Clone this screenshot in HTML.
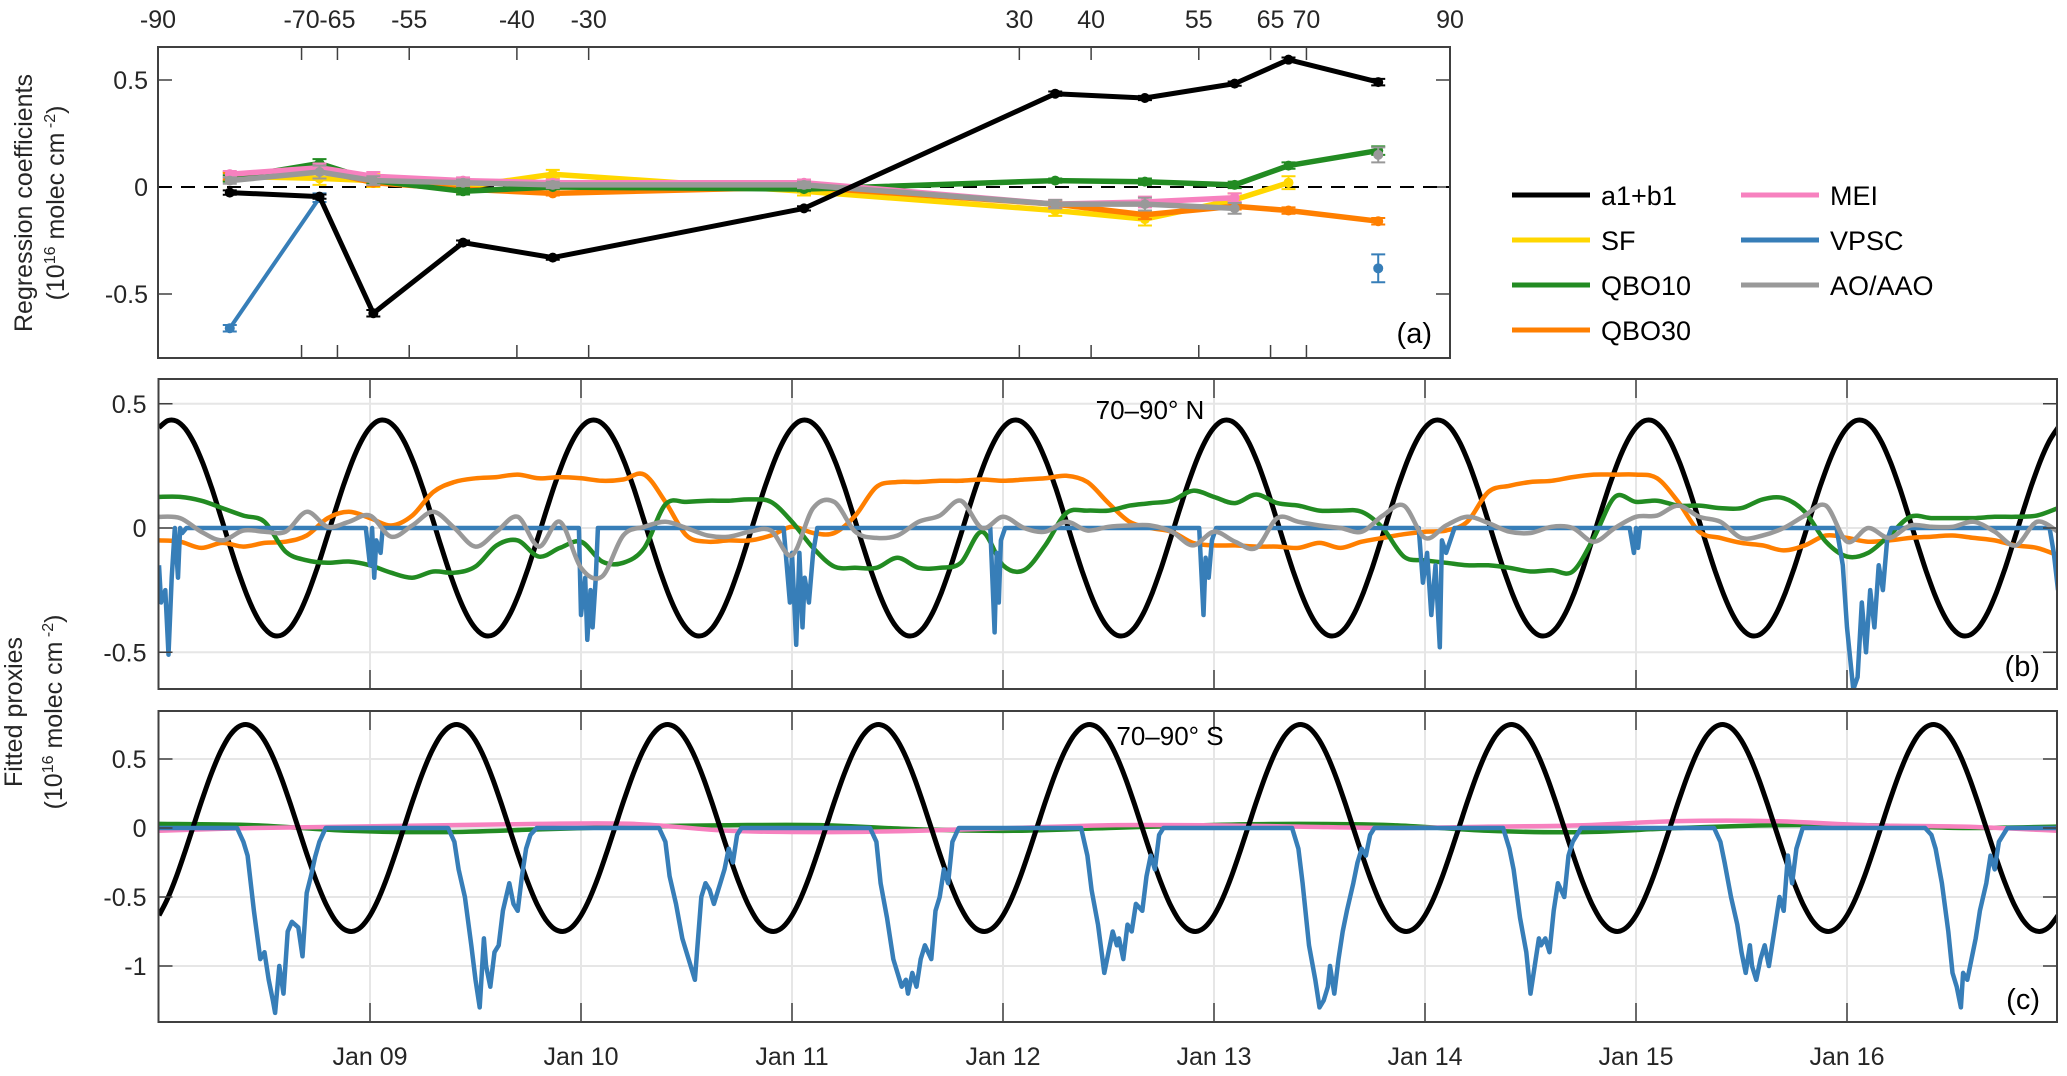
<!DOCTYPE html>
<html><head><meta charset="utf-8"><title>Regression coefficients and fitted proxies</title>
<style>
html,body{margin:0;padding:0;background:#fff;}
svg{display:block;font-family:"Liberation Sans",sans-serif;}
</style></head>
<body>
<svg id="chart" width="2067" height="1076" viewBox="0 0 2067 1076" xmlns="http://www.w3.org/2000/svg">
<g id="pa"></g>
<g id="pb"></g>
<g id="pc"></g>
<g id="legend"></g>
<text transform="translate(32,203) rotate(-90)" text-anchor="middle" font-size="25" fill="#262626">Regression coefficients</text>
<text transform="translate(64,203) rotate(-90)" text-anchor="middle" font-size="25" fill="#262626">(10<tspan font-size="16" dy="-9">16</tspan><tspan dy="9"> molec cm</tspan><tspan font-size="16" dy="-9"> -2</tspan><tspan dy="9">)</tspan></text>
<text transform="translate(22,712) rotate(-90)" text-anchor="middle" font-size="25" fill="#262626">Fitted proxies</text>
<text transform="translate(62,712) rotate(-90)" text-anchor="middle" font-size="25" fill="#262626">(10<tspan font-size="16" dy="-9">16</tspan><tspan dy="9"> molec cm</tspan><tspan font-size="16" dy="-9"> -2</tspan><tspan dy="9">)</tspan></text>
</svg>
<script>
// ---------- Panel (a) data ----------
const latitudes = [-80, -67.5, -60, -47.5, -35, 0, 35, 47.5, 60, 67.5, 80];
const latTicks = [-90, -70, -65, -55, -40, -30, 30, 40, 55, 65, 70, 90];
const aTicks = [0.5, 0, -0.5];
const coefA1B1 = [-0.026, -0.045, -0.59, -0.26, -0.33, -0.10, 0.436, 0.416, 0.483, 0.595, 0.49];
const coefSF = [0.05, 0.04, 0.03, 0.0, 0.06, -0.02, -0.11, -0.15, -0.06, 0.02, null];
const coefQBO10 = [0.04, 0.11, 0.03, -0.02, 0.0, -0.01, 0.03, 0.025, 0.01, 0.10, 0.17];
const coefQBO30 = [0.05, 0.08, 0.02, -0.01, -0.03, 0.0, -0.08, -0.13, -0.09, -0.11, -0.16];
const coefMEI = [0.06, 0.09, 0.05, 0.03, 0.02, 0.02, -0.08, -0.07, -0.05, null, null];
const coefVPSC = [-0.66, -0.05, null, null, null, null, null, null, null, null, -0.38];
const coefAO = [0.03, 0.07, 0.03, 0.02, 0.01, 0.01, -0.08, -0.08, -0.10, null, 0.15];
const errA1B1 = [0.01, 0.01, 0.015, 0.01, 0.01, 0.01, 0.01, 0.01, 0.01, 0.01, 0.015];
const errSF = [0.02, 0.03, 0.03, 0.02, 0.02, 0.02, 0.025, 0.03, 0.03, 0.03, 0];
const errQBO10 = [0.015, 0.02, 0.015, 0.015, 0.01, 0.01, 0.01, 0.015, 0.015, 0.015, 0.02];
const errQBO30 = [0.015, 0.02, 0.015, 0.015, 0.01, 0.01, 0.015, 0.02, 0.015, 0.015, 0.015];
const errMEI = [0.015, 0.02, 0.02, 0.015, 0.015, 0.015, 0.02, 0.025, 0.02, 0, 0];
const errVPSC = [0.015, 0.02, 0, 0, 0, 0, 0, 0, 0, 0, 0.065];
const errAO = [0.015, 0.03, 0.02, 0.015, 0.015, 0.015, 0.02, 0.03, 0.025, 0, 0.035];

// ---------- Panel (b)/(c) data ----------
const years = ["Jan 09","Jan 10","Jan 11","Jan 12","Jan 13","Jan 14","Jan 15","Jan 16"];
const bTicks = [0.5, 0, -0.5];
const cTicks = [0.5, 0, -0.5, -1];
const cycleB = [0.404,0.432,0.430,0.399,0.341,0.259,0.160,0.050,-0.064,-0.173,-0.270,-0.349,-0.404,-0.432,-0.430,-0.399,-0.341,-0.259,-0.160,-0.050,0.064,0.173,0.270,0.349];
const cycleC = [-0.633,-0.508,-0.348,-0.164,0.031,0.224,0.402,0.552,0.665,0.732,0.749,0.716,0.633,0.508,0.348,0.164,-0.031,-0.224,-0.402,-0.552,-0.665,-0.732,-0.749,-0.716];
const qbo30B = [-0.05,-0.055,-0.08,-0.06,-0.075,-0.06,-0.055,-0.03,0.04,0.065,0.04,0.01,0.05,0.145,0.185,0.2,0.205,0.215,0.2,0.205,0.2,0.19,0.195,0.215,0.105,-0.03,-0.055,-0.05,-0.05,-0.03,0.005,-0.02,-0.02,0.05,0.165,0.185,0.185,0.19,0.19,0.195,0.19,0.195,0.2,0.21,0.185,0.1,0.025,0,-0.015,-0.06,-0.07,-0.07,-0.075,-0.075,-0.08,-0.06,-0.08,-0.055,-0.04,-0.025,-0.015,-0.01,0.025,0.145,0.17,0.185,0.19,0.205,0.215,0.215,0.215,0.2,0.105,-0.015,-0.04,-0.06,-0.07,-0.09,-0.07,-0.03,-0.04,-0.055,-0.05,-0.04,-0.035,-0.03,-0.04,-0.05,-0.07,-0.08,-0.11];
const qbo10B = [0.125,0.125,0.11,0.08,0.05,0.025,-0.095,-0.13,-0.14,-0.135,-0.15,-0.18,-0.2,-0.175,-0.18,-0.155,-0.07,-0.05,-0.115,-0.08,-0.055,-0.135,-0.14,-0.08,0.095,0.105,0.11,0.11,0.115,0.105,0.025,-0.08,-0.155,-0.16,-0.16,-0.12,-0.16,-0.16,-0.14,-0.015,-0.15,-0.17,-0.07,0.06,0.07,0.07,0.09,0.1,0.11,0.15,0.125,0.1,0.135,0.1,0.09,0.07,0.07,0.065,0,-0.115,-0.13,-0.14,-0.15,-0.15,-0.16,-0.175,-0.17,-0.175,-0.04,0.125,0.105,0.11,0.09,0.09,0.08,0.08,0.115,0.12,0.065,-0.055,-0.115,-0.1,-0.03,0.045,0.04,0.04,0.04,0.045,0.045,0.05,0.08];
const aoB = [0.045,0.04,-0.015,-0.05,-0.01,-0.015,-0.015,0.065,0.005,0.025,0.05,-0.035,0.01,0.065,0,-0.075,-0.015,0.045,-0.075,0.025,-0.16,-0.195,-0.03,0.005,0.025,0,-0.03,-0.035,-0.015,-0.01,-0.11,0.08,0.105,-0.015,-0.04,-0.03,0.025,0.05,0.11,0,0.045,0,-0.015,0.025,-0.01,0.005,0.01,0.01,-0.015,-0.07,-0.015,-0.055,-0.08,0.04,0.025,0.01,0,-0.015,0.05,0.09,-0.04,0.01,0.045,0.02,-0.015,-0.02,0.005,0,-0.055,0,0.045,0.05,0.09,0.045,0.025,-0.04,-0.03,0,0.05,0.09,-0.055,0,-0.04,0.01,0.005,0.005,0.025,-0.015,-0.07,0.025,-0.015];
const vpscBTimes = [0,0.01,0.03,0.045,0.06,0.075,0.09,0.1,0.11,0.13,0.98,1.0,1.01,1.02,1.03,1.05,1.06,1.99,2.0,2.02,2.03,2.045,2.055,2.07,2.08,2.96,2.99,3.0,3.02,3.035,3.05,3.06,3.08,3.1,3.12,3.94,3.96,3.97,3.98,3.99,4.01,4.93,4.95,4.96,4.975,4.99,5.01,5.97,5.99,6.01,6.03,6.05,6.07,6.08,6.1,6.14,6.97,6.99,7.0,7.01,7.02,7.95,7.98,8.0,8.03,8.05,8.07,8.09,8.11,8.13,8.15,8.17,8.19,8.21,8.96,8.98,9.0];
const vpscBVals = [-0.15,-0.3,-0.25,-0.51,-0.2,0,-0.2,0,-0.02,0,0,-0.15,0,-0.2,-0.05,-0.1,0,0,-0.35,-0.2,-0.45,-0.25,-0.4,-0.2,0,0,-0.3,-0.1,-0.47,-0.1,-0.4,-0.2,-0.3,-0.1,0,0,-0.42,-0.1,-0.3,-0.05,0,0,-0.35,-0.12,-0.2,-0.05,0,0,-0.22,-0.1,-0.35,-0.15,-0.48,-0.05,-0.1,0,0,-0.1,0,-0.08,0,0,-0.15,-0.4,-0.65,-0.6,-0.3,-0.5,-0.25,-0.4,-0.15,-0.25,-0.05,0,0,-0.1,-0.25];
const qbo10C = [0.03,0.02,-0.02,-0.03,-0.01,0.01,0.02,0.02,-0.01,-0.02,0.0,0.02,0.03,0.02,-0.02,-0.03,0.0,0.02,0.02,0.0,0.01];
const meiC = [-0.02,0.0,0.01,0.02,0.03,0.03,-0.02,-0.03,-0.02,0.0,0.02,0.02,0.01,0.0,0.01,0.02,0.05,0.05,0.02,0.01,-0.02];
const vpscCFrac = [0.37,0.40,0.42,0.45,0.48,0.50,0.52,0.54,0.55,0.57,0.59,0.61,0.63,0.66,0.68,0.70,0.72,0.74,0.76,0.79];
const vpscCVals = [
 [0,-0.1,-0.2,-0.6,-0.95,-0.9,-1.1,-1.25,-1.34,-1.0,-1.2,-0.75,-0.68,-0.72,-0.93,-0.47,-0.35,-0.21,-0.1,0],
 [0,-0.1,-0.3,-0.5,-0.85,-1.1,-1.3,-0.8,-1.0,-1.15,-0.9,-0.85,-0.6,-0.4,-0.55,-0.6,-0.35,-0.15,-0.05,0],
 [0,-0.1,-0.35,-0.55,-0.8,-0.9,-1.0,-1.1,-0.9,-0.5,-0.4,-0.45,-0.55,-0.4,-0.3,-0.15,-0.25,-0.05,0,0],
 [0,-0.1,-0.4,-0.65,-0.95,-1.05,-1.15,-1.1,-1.2,-1.05,-1.15,-0.95,-0.85,-0.95,-0.6,-0.5,-0.3,-0.4,-0.1,0],
 [0,-0.2,-0.45,-0.7,-1.05,-0.9,-0.75,-0.85,-0.8,-0.95,-0.7,-0.75,-0.55,-0.6,-0.35,-0.2,-0.3,-0.05,0,0],
 [0,-0.15,-0.4,-0.85,-1.1,-1.3,-1.25,-1.15,-1.0,-1.2,-0.95,-0.75,-0.6,-0.4,-0.25,-0.15,-0.2,-0.05,0,0],
 [0,-0.15,-0.3,-0.65,-0.9,-1.2,-1.0,-0.8,-0.85,-0.8,-0.9,-0.6,-0.4,-0.5,-0.2,-0.1,-0.05,0,0,0],
 [0,-0.1,-0.25,-0.5,-0.7,-0.9,-1.05,-0.85,-1.0,-1.1,-0.95,-0.85,-1.0,-0.7,-0.5,-0.6,-0.2,-0.4,-0.15,0],
 [0,-0.05,-0.15,-0.4,-0.75,-1.05,-1.15,-1.3,-1.05,-1.1,-0.95,-0.8,-0.6,-0.4,-0.2,-0.3,-0.1,-0.05,0,0]
];

const COL = {black:"#000000", sf:"#FFD700", qbo10:"#228B22", qbo30:"#FF7F00", mei:"#F781BF", vpsc:"#377EB8", ao:"#999999"};
const NS = "http://www.w3.org/2000/svg";
function mk(tag, attrs, parent){
  const e = document.createElementNS(NS, tag);
  for (const k in attrs) e.setAttribute(k, attrs[k]);
  if (parent) parent.appendChild(e);
  return e;
}
function linePath(pts){ return pts.map((p,i)=>(i?"L":"M")+p[0].toFixed(1)+","+p[1].toFixed(1)).join(""); }
function smoothPath(pts){
  let d = "M"+pts[0][0].toFixed(1)+","+pts[0][1].toFixed(1);
  for (let i=0;i<pts.length-1;i++){
    const p0=pts[Math.max(0,i-1)], p1=pts[i], p2=pts[i+1], p3=pts[Math.min(pts.length-1,i+2)];
    const c1x=p1[0]+(p2[0]-p0[0])/6, c1y=p1[1]+(p2[1]-p0[1])/6;
    const c2x=p2[0]-(p3[0]-p1[0])/6, c2y=p2[1]-(p3[1]-p1[1])/6;
    d += "C"+c1x.toFixed(1)+","+c1y.toFixed(1)+" "+c2x.toFixed(1)+","+c2y.toFixed(1)+" "+p2[0].toFixed(1)+","+p2[1].toFixed(1);
  }
  return d;
}

// ---------- Panel (a) ----------
(function(){
  const g = document.getElementById("pa");
  const L=158, R=1450, T=47, B=358;
  const xLat = lat => L + (lat+90)*(R-L)/180;
  const yA = v => 187 - v*214;
  const clip = mk("clipPath",{id:"clipA"},g); mk("rect",{x:L,y:T,width:R-L,height:B-T},clip);
  latTicks.forEach(lt=>{
    const x = xLat(lt);
    const t1 = mk("line",{x1:x,y1:T,x2:x,y2:T+13,stroke:"#404040","stroke-width":1.5},g);
    
    
    const t2 = mk("line",{x1:x,y1:B,x2:x,y2:B-13,stroke:"#404040","stroke-width":1.5},g);
    
    
    const tx = mk("text",{x:x,y:28,"text-anchor":"middle","font-size":25,fill:"#262626"},g);
    tx.textContent = String(lt);
    
    
  });
  aTicks.forEach(v=>{
    const y=yA(v);
    const t1 = mk("line",{x1:L,y1:y,x2:L+14,y2:y,stroke:"#404040","stroke-width":1.5},g);
    
    
    const t2 = mk("line",{x1:R,y1:y,x2:R-14,y2:y,stroke:"#404040","stroke-width":1.5},g);
    
    
    const tx = mk("text",{x:L-10,y:y+9,"text-anchor":"end","font-size":25,fill:"#262626"},g);
    tx.textContent = String(v);
    
    
  });
  const zl = mk("line",{x1:L,y1:yA(0),x2:R,y2:yA(0),stroke:"#000","stroke-width":2,"stroke-dasharray":"14,9"},g);
  
  
  const series = [
    ["sf",coefSF,errSF,COL.sf,5.5],["qbo30",coefQBO30,errQBO30,COL.qbo30,5.5],["qbo10",coefQBO10,errQBO10,COL.qbo10,5.5],
    ["mei",coefMEI,errMEI,COL.mei,5.5],["ao",coefAO,errAO,COL.ao,5.5],["vpsc",coefVPSC,errVPSC,COL.vpsc,4],["a1b1",coefA1B1,errA1B1,COL.black,5]
  ];
  series.forEach(([nm,vals,errs,col,w])=>{
    const sg = mk("g",{"clip-path":"url(#clipA)"},g);
    
    
    let seg=[];
    const flush=()=>{ if(seg.length>1){ const p=mk("path",{d:linePath(seg),fill:"none",stroke:col,"stroke-width":w,"stroke-linejoin":"round"},sg);
      
       } seg=[]; };
    vals.forEach((v,i)=>{ if(v===null){flush();return;} seg.push([xLat(latitudes[i]),yA(v)]); });
    flush();
    vals.forEach((v,i)=>{
      if(v===null) return;
      const x=xLat(latitudes[i]), y=yA(v), e=errs[i]*214;
      if(e>0){
        const eb=mk("path",{d:`M${x},${y-e}L${x},${y+e}M${x-7},${y-e}L${x+7},${y-e}M${x-7},${y+e}L${x+7},${y+e}`,stroke:col,"stroke-width":2,fill:"none"},sg);
        
        
      }
      const c=mk("circle",{cx:x,cy:y,r:5,fill:col},sg);
      
      
    });
  });
  const box = mk("rect",{x:L,y:T,width:R-L,height:B-T,fill:"none",stroke:"#404040","stroke-width":2},g);
  
  
  const lab = mk("text",{x:1432,y:343,"text-anchor":"end","font-size":29,fill:"#000"},g);
  lab.textContent="(a)";
  
  
})();

// ---------- Panels (b) and (c) ----------
const L2=158.5, R2=2057;
const xT = t => 159 + 211*t;
function timePanel(gid, T, B, y0, ppu, ticks, labelTxt, titleTxt, titleX, titleY, showDates){
  const g=document.getElementById(gid);
  const yV = v => y0 - v*ppu;
  const cid="clip"+gid;
  const clip=mk("clipPath",{id:cid},g); mk("rect",{x:L2,y:T,width:R2-L2,height:B-T},clip);
  ticks.forEach(v=>{
    const gl=mk("line",{x1:L2,y1:yV(v),x2:R2,y2:yV(v),stroke:"#e6e6e6","stroke-width":2},g);
    
    
  });
  years.forEach((yl,i)=>{
    const x=xT(i+1);
    const gl=mk("line",{x1:x,y1:T,x2:x,y2:B,stroke:"#e6e6e6","stroke-width":2},g);
    
    
  });
  return {g, yV, cid, T, B, ticks, labelTxt, titleTxt, titleX, titleY, showDates};
}
function finishPanel(P, name){
  const g=P.g;
  P.ticks.forEach(v=>{
    const y=P.yV(v);
    const t1=mk("line",{x1:L2,y1:y,x2:L2+14,y2:y,stroke:"#404040","stroke-width":1.5},g);
    
    
    const t2=mk("line",{x1:R2,y1:y,x2:R2-14,y2:y,stroke:"#404040","stroke-width":1.5},g);
    
    
    const tx=mk("text",{x:L2-12,y:y+9,"text-anchor":"end","font-size":25,fill:"#262626"},g);
    tx.textContent=String(v);
    
    
  });
  years.forEach((yl,i)=>{
    const x=xT(i+1);
    const t1=mk("line",{x1:x,y1:P.T,x2:x,y2:P.T+19,stroke:"#404040","stroke-width":1.5},g);
    
    
    const t2=mk("line",{x1:x,y1:P.B,x2:x,y2:P.B-19,stroke:"#404040","stroke-width":1.5},g);
    
    
    if(P.showDates){
      const tx=mk("text",{x:x,y:1065,"text-anchor":"middle","font-size":25,fill:"#262626"},g);
      tx.textContent=yl;
      
      
    }
  });
  const box=mk("rect",{x:L2,y:P.T,width:R2-L2,height:P.B-P.T,fill:"none",stroke:"#404040","stroke-width":2},g);
  
  
  const lab=mk("text",{x:2040,y:P.B-13,"text-anchor":"end","font-size":29,fill:"#000"},g);
  lab.textContent=P.labelTxt;
  
  
  const ti=mk("text",{x:P.titleX,y:P.titleY,"text-anchor":"middle","font-size":26,fill:"#000"},g);
  ti.textContent=P.titleTxt;
  
  
}
function drawLine(P, pts, col, w, smooth, nm){
  const p=mk("path",{d:smooth?smoothPath(pts):linePath(pts),fill:"none",stroke:col,"stroke-width":w,"stroke-linejoin":"round","clip-path":"url(#"+P.cid+")"},P.g);
  
  
}
function cyclePts(P, cyc){
  const pts=[];
  for(let y=0;y<9;y++) cyc.forEach((v,k)=>pts.push([xT(y+k/cyc.length),P.yV(v)]));
  pts.push([xT(9),P.yV(cyc[0])]);
  return pts;
}
function tenthPts(P, arr){ return arr.map((v,i)=>[xT(i*0.1),P.yV(v)]); }
function halfPts(P, arr){ return arr.map((v,i)=>[xT(i*0.45),P.yV(v)]); }

// Panel b
const PB = timePanel("pb", 379, 689, 528, 248.5, bTicks, "(b)", "70–90° N", 1150, 419, false);
drawLine(PB, cyclePts(PB, cycleB), COL.black, 5, true, "line-b-a1b1");
drawLine(PB, tenthPts(PB, qbo30B), COL.qbo30, 4.5, true, "line-b-qbo30");
drawLine(PB, tenthPts(PB, qbo10B), COL.qbo10, 4.5, true, "line-b-qbo10");
drawLine(PB, vpscBTimes.map((t,i)=>[xT(t),PB.yV(vpscBVals[i])]), COL.vpsc, 4.5, false, "line-b-vpsc");
drawLine(PB, tenthPts(PB, aoB), COL.ao, 4.5, true, "line-b-ao");
finishPanel(PB, "b");

// Panel c
const PC = timePanel("pc", 711, 1022, 828, 138, cTicks, "(c)", "70–90° S", 1170, 745, true);
drawLine(PC, halfPts(PC, qbo10C), COL.qbo10, 4.5, true, "line-c-qbo10");
drawLine(PC, halfPts(PC, meiC), COL.mei, 4.5, true, "line-c-mei");
drawLine(PC, cyclePts(PC, cycleC), COL.black, 5, true, "line-c-a1b1");
(function(){
  const pts=[[xT(0),PC.yV(0)]];
  vpscCVals.forEach((vals,y)=>{ vals.forEach((v,k)=>pts.push([xT(y+vpscCFrac[k]),PC.yV(v)])); });
  pts.push([xT(9),PC.yV(0)]);
  drawLine(PC, pts, COL.vpsc, 4.5, false, "line-c-vpsc");
})();
finishPanel(PC, "c");

// ---------- Legend ----------
(function(){
  const g=document.getElementById("legend");
  const entries=[["a1+b1",COL.black,1512,195],["SF",COL.sf,1512,240],["QBO10",COL.qbo10,1512,285],["QBO30",COL.qbo30,1512,330],
                 ["MEI",COL.mei,1741,195],["VPSC",COL.vpsc,1741,240],["AO/AAO",COL.ao,1741,285]];
  entries.forEach(([t,c,x,y])=>{
    const eg=mk("g",{},g);
    
    
    mk("line",{x1:x,y1:y,x2:x+78,y2:y,stroke:c,"stroke-width":5},eg);
    const tx=mk("text",{x:x+89,y:y+10,"font-size":27,fill:"#000"},eg);
    tx.textContent=t;
  });
})();
</script>
</body></html>
